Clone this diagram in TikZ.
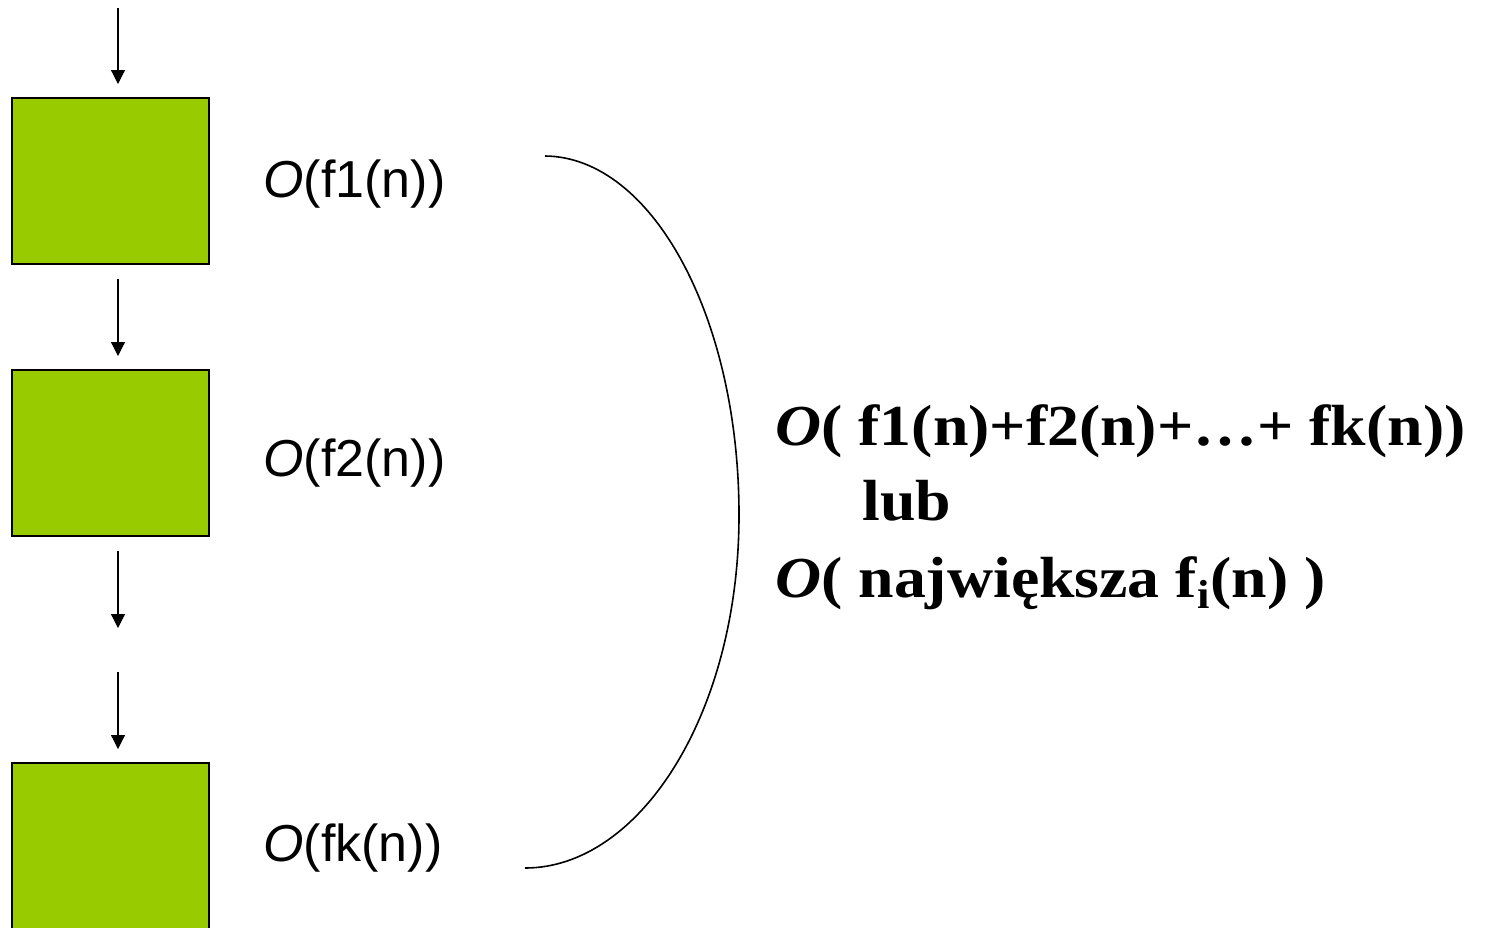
\documentclass[tikz,border=0pt]{standalone}
\usepackage{fontspec}
\setmainfont{Liberation Serif}
\newfontfamily\lsans{Liberation Sans}
\usetikzlibrary{arrows.meta}
\definecolor{boxgreen}{RGB}{153,204,0}
\tikzset{
  blk/.style={draw=black, line width=1pt, fill=boxgreen},
  flow/.style={draw=black, line width=0.6pt, -{Triangle[length=7pt,width=7pt]}},
  cost/.style={anchor=west, inner sep=0pt, font=\lsans\fontsize{26}{30}\selectfont},
  sumtext/.style={anchor=base west, inner sep=0pt, font=\bfseries\fontsize{29}{34}\selectfont}
}
\newcommand{\wide}[1]{\scalebox{1.10}[1]{#1}}
\begin{document}
\begin{tikzpicture}[x=0.5pt,y=-0.5pt]
\useasboundingbox (0,0) rectangle (1491,927);
\begin{scope}
\clip (0,0) rectangle (1491,927);
\draw[blk] (12,98) rectangle (209,264);
\draw[blk] (12,370) rectangle (209,536);
\draw[blk] (12,763) rectangle (209,940);
\end{scope}
\coordinate (a0s) at (118,8);   \coordinate (a0e) at (118,84);
\coordinate (a1s) at (118,279); \coordinate (a1e) at (118,356);
\coordinate (a2s) at (118,551); \coordinate (a2e) at (118,628);
\coordinate (a3s) at (118,672); \coordinate (a3e) at (118,749);
\draw[flow] (a0s) -- (a0e);
\draw[flow] (a1s) -- (a1e);
\draw[flow] (a2s) -- (a2e);
\draw[flow] (a3s) -- (a3e);
\node[cost] (l1) at (263,184) {\textit{O}(f1(n))};
\node[cost] (l2) at (263,463) {\textit{O}(f2(n))};
\node[cost] (lk) at (263,848) {\textit{O}(fk(n))};
\coordinate (ct) at (545,156);
\coordinate (cm) at (739,515);
\coordinate (cb) at (525,868);
\draw[line width=0.8pt] (ct) .. controls (652,157) and (739,317) .. (cm)
  .. controls (739,713) and (640,868) .. (cb);
\node[sumtext] (s1) at (775,445) {\wide{\textit{O}( f1(n)+f2(n)+…+ fk(n))}};
\node[sumtext] (s2) at (862,520) {\wide{lub}};
\node[sumtext] (s3) at (775,597) {\wide{\textit{O}( największa f\textsubscript{i}(n) )}};
\end{tikzpicture}
\end{document}
